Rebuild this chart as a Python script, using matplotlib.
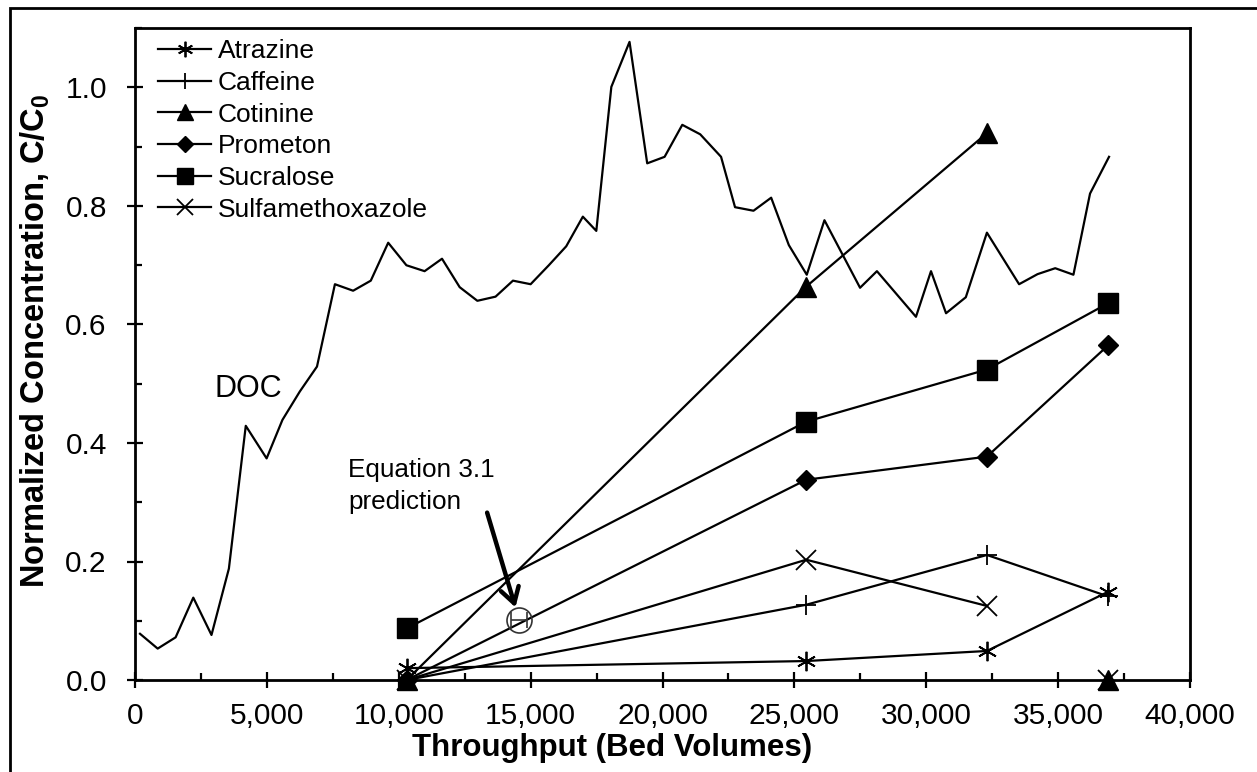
import matplotlib
matplotlib.use("Agg")
import matplotlib.pyplot as plt
import numpy as np
from matplotlib.patches import Rectangle
from matplotlib.ticker import FuncFormatter, MultipleLocator

plt.rcParams["font.family"] = ["Liberation Sans", "DejaVu Sans"]

# DOC breakthrough (bed volumes, C/C0)
doc_bv = [190, 860, 1540, 2210, 2900, 3560, 4200, 4990, 5590, 6250, 6900,
          7580, 8270, 8940, 9600, 10290, 10980, 11640, 12310, 12980, 13670,
          14330, 15000, 15690, 16350, 16980, 17490, 18060, 18750, 19420,
          20080, 20750, 21430, 22220, 22750, 23450, 24120, 24790, 25470,
          26140, 27490, 28130, 29610, 30180, 30750, 31500, 32300, 33520,
          34220, 34890, 35580, 36210, 36930]
doc_c = [0.078, 0.053, 0.072, 0.139, 0.076, 0.188, 0.429, 0.374, 0.439,
         0.487, 0.529, 0.668, 0.657, 0.674, 0.738, 0.700, 0.690, 0.711,
         0.663, 0.640, 0.647, 0.674, 0.668, 0.700, 0.732, 0.782, 0.758,
         1.001, 1.077, 0.872, 0.883, 0.937, 0.921, 0.883, 0.798, 0.792,
         0.814, 0.734, 0.684, 0.776, 0.662, 0.690, 0.613, 0.690, 0.619,
         0.646, 0.755, 0.668, 0.685, 0.695, 0.684, 0.821, 0.883]

# trace organics sampled at four throughputs
sample_bv = [10300, 25450, 32300, 36900]
atrazine = [0.020, 0.032, 0.049, 0.149]
caffeine = [0.0, 0.127, 0.211, 0.141]
cotinine = [0.0, 0.664, 0.923, 0.0]
prometon = [0.0, 0.338, 0.377, 0.565]
sucralose = [0.087, 0.436, 0.524, 0.636]
sulfamethoxazole = [0.0, 0.203, 0.125, 0.0]

# Equation 3.1 prediction
pred_bv = 14560
pred_c = 0.101
pred_err = 300

fig = plt.figure(figsize=(12.57, 7.72), dpi=100)
W, H = 1257, 772
ax = fig.add_axes([135 / W, 1 - 680 / H, 1055 / W, 651.75 / H])

# outer chart frame
fig.patches.append(Rectangle((10 / W, -0.2), 1.5, 1.2 - 8 / H,
                             transform=fig.transFigure, fill=False,
                             lw=2.0, ec="black", zorder=0))

lw = 1.6
ax.plot(doc_bv, doc_c, color="black", lw=lw, zorder=2)

common = dict(color="black", lw=lw, zorder=3, clip_on=False)
lone = dict(color="black", ls="none", zorder=3, clip_on=False)
ax.plot(sample_bv, atrazine, marker=(6, 2, 0), ms=14, mew=1.3,
        label="Atrazine", **common)
ax.plot(sample_bv, caffeine, marker="+", ms=15, mew=1.3,
        label="Caffeine", **common)
# last cotinine / sulfamethoxazole samples are not joined to the series
ax.plot(sample_bv[:3], cotinine[:3], marker="^", ms=15,
        label="Cotinine", **common)
ax.plot(sample_bv[3:], cotinine[3:], marker="^", ms=15, **lone)
ax.plot(sample_bv, prometon, marker="D", ms=10.5,
        label="Prometon", **common)
ax.plot(sample_bv, sucralose, marker="s", ms=15,
        label="Sucralose", **common)
ax.plot(sample_bv[:3], sulfamethoxazole[:3], marker="x", ms=15, mew=1.3,
        label="Sulfamethoxazole", **common)
ax.plot(sample_bv[3:], sulfamethoxazole[3:], marker="x", ms=15, mew=1.3,
        **lone)

ax.errorbar(pred_bv, pred_c, xerr=pred_err, fmt="o", ms=18, mfc="none",
            mec="#333333", mew=1.2, ecolor="#333333", elinewidth=1.2,
            capsize=6, capthick=1.2, zorder=4)
ax.annotate("", xy=(14455, 0.118), xytext=(13320, 0.287),
            arrowprops=dict(arrowstyle="->,head_length=0.5,head_width=0.3",
                            lw=3.2, color="black", mutation_scale=22))
ax.text(8070, 0.374, "Equation 3.1\nprediction", fontsize=18.8,
        va="top", ha="left", linespacing=1.4)
ax.text(3030, 0.491, "DOC", fontsize=22, va="center", ha="left")

ax.set_xlim(0, 40000)
ax.set_ylim(0, 1.1)
ax.xaxis.set_major_locator(MultipleLocator(5000))
ax.xaxis.set_minor_locator(MultipleLocator(2500))
ax.yaxis.set_major_locator(MultipleLocator(0.2))
ax.yaxis.set_minor_locator(MultipleLocator(0.1))
ax.xaxis.set_major_formatter(FuncFormatter(lambda v, p: f"{int(v):,}"))
ax.yaxis.set_major_formatter(FuncFormatter(lambda v, p: f"{v:.1f}"))

for side in ax.spines.values():
    side.set_linewidth(2.0)
ax.tick_params(which="major", direction="inout", length=11.5, width=1.6,
               labelsize=21.5)
ax.tick_params(axis="x", which="major", pad=10)
ax.tick_params(axis="y", which="major", pad=14.5)
ax.tick_params(which="minor", direction="in", length=5, width=1.6)
ax.tick_params(top=False, right=False, which="both")

ax.set_xlabel("Throughput (Bed Volumes)", fontsize=22.5, fontweight="bold")
ax.xaxis.set_label_coords(0.452, -0.081)
ax.set_ylabel("Normalized Concentration, C/C$_\\mathregular{0}$",
              fontsize=23.5, fontweight="bold")
ax.yaxis.set_label_coords(-0.079, 0.52)

ax.legend(loc="upper left", bbox_to_anchor=(0.022, 0.983), frameon=False,
          fontsize=19, borderpad=0, borderaxespad=0, handlelength=2.0,
          handletextpad=0.25, labelspacing=0.29, markerscale=0.8)

fig.savefig("out.png", dpi=100)
